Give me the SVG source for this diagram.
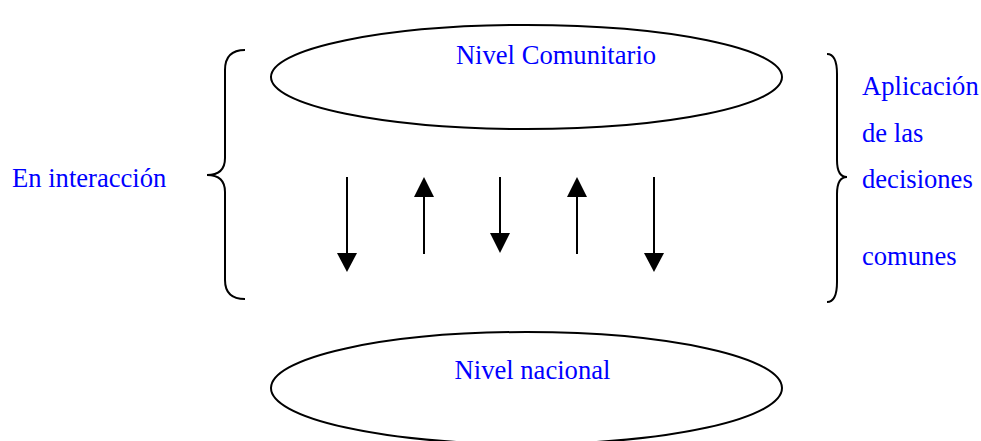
<svg xmlns="http://www.w3.org/2000/svg" width="981" height="441" viewBox="0 0 981 441">
<style>
.t{font-family:"Liberation Serif","Times New Roman",serif;font-size:26.6px;fill:#0000ff}
.e{fill:none;stroke:#000;stroke-width:2}
.b{fill:none;stroke:#000;stroke-width:2}
.a{stroke:#000;stroke-width:2;fill:none}
.h{fill:#000;stroke:none}
</style>
<rect width="981" height="441" fill="#fff"/>
<g id="nivel-comunitario">
<ellipse class="e" cx="526.5" cy="77" rx="255.5" ry="52"/>
<text class="t" x="556" y="64" text-anchor="middle">Nivel Comunitario</text>
</g>
<g id="nivel-nacional">
<ellipse class="e" cx="526.5" cy="388" rx="255.5" ry="56"/>
<text class="t" x="532.5" y="379" text-anchor="middle">Nivel nacional</text>
</g>
<g id="en-interaccion">
<path class="b" d="M245,50 Q225,50 225,70 L225,158 Q225,175 207,175 Q225,175 225,192 L225,280 Q225,299 245,299"/>
<text class="t" x="12" y="187">En interacción</text>
</g>
<g id="aplicacion">
<path class="b" d="M827,54 Q837,54 837,74 L837,160 Q837,177 847,177 Q837,177 837,194 L837,282 Q837,302 827,302"/>
<text class="t" x="862" y="95">Aplicación</text>
<text class="t" x="862" y="142">de las</text>
<text class="t" x="862" y="188">decisiones</text>
<text class="t" x="862" y="265">comunes</text>
</g>
<g id="connectors">
<line class="a" x1="347" y1="177" x2="347" y2="254"/>
<polygon class="h" points="337,253 357,253 347,272"/>
<line class="a" x1="424" y1="254" x2="424" y2="196"/>
<polygon class="h" points="414,197 434,197 424,177"/>
<line class="a" x1="500" y1="177" x2="500" y2="234"/>
<polygon class="h" points="490,233 510,233 500,253"/>
<line class="a" x1="577" y1="254" x2="577" y2="196"/>
<polygon class="h" points="567,197 587,197 577,177"/>
<line class="a" x1="654" y1="177" x2="654" y2="254"/>
<polygon class="h" points="644,253 664,253 654,272"/>
</g>
</svg>
